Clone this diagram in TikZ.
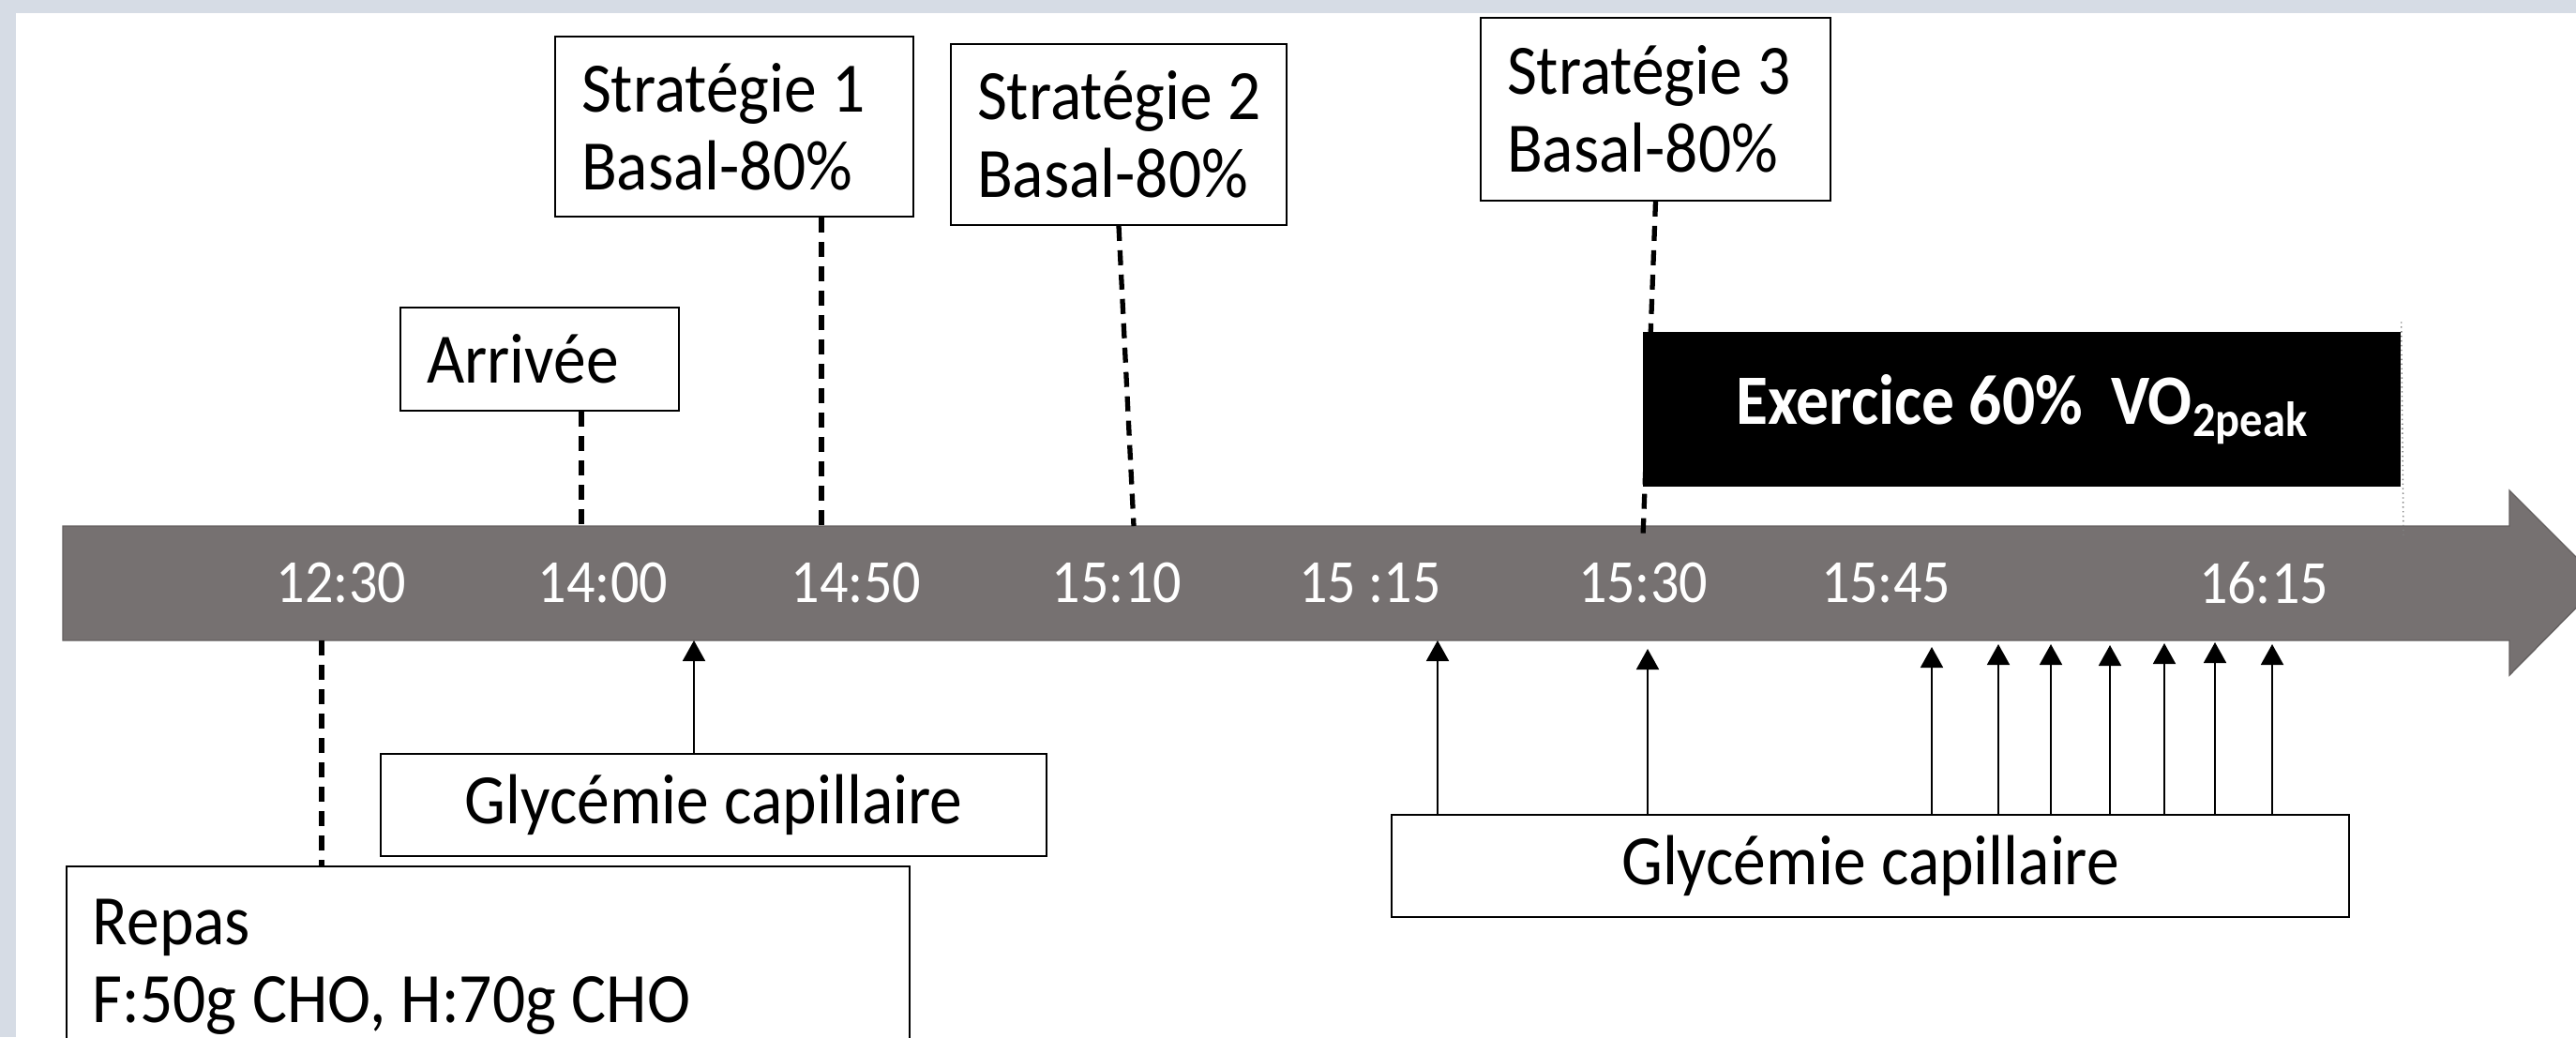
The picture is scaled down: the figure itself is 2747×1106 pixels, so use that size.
\documentclass[tikz,border=0pt]{standalone}
\usepackage{fontspec}
\setmainfont{Carlito}[FakeStretch=0.92]
\usetikzlibrary{arrows.meta,positioning}
\definecolor{axisgray}{HTML}{767171}
\definecolor{bgblue}{HTML}{D6DCE5}
\newcommand\tightsp{\spaceskip 0.22em\relax\xspaceskip 0.22em\relax}

\begin{document}
\begin{tikzpicture}[x=0.1mm,y=-0.1mm,
  box/.style={draw=black,line width=0.5pt,fill=white,align=left,inner xsep=2.8mm,font=\fontsize{21.5}{23.7}\selectfont,execute at begin node=\tightsp},
  tlab/.style={text=white,font=\fontsize{18.6}{20}\selectfont},
  dashln/.style={line width=1.5pt,dash pattern=on 1.6mm off 1mm},
  uparr/.style={-{Triangle[width=2.4mm,length=2.2mm]},line width=0.55pt}
]
  \clip (0,0) rectangle (2747,1106);
  \fill[bgblue] (0,0) rectangle (2747,1106);
  \fill[white] (17,14) rectangle (2747,1106);
  % time axis
  \filldraw[fill=axisgray,draw=axisgray!85!black,line width=0.4pt] (67,561) -- (2676,561) -- (2676,523) -- (2774,621) -- (2676,720) -- (2676,683) -- (67,683) -- cycle;
  \foreach \x/\t [count=\i] in {364/12:30, 643/14:00, 913/14:50, 1191/15:10, 1461/15 :15, 1752/15:30, 2011/15:45, 2414/16:15}
    \node[tlab] (t\i) at (\x,622) {\t};
  % boxes
  \node[box,text width=32.6mm,minimum height=19.2mm] (strat1) at (783,135) {\mbox{Stratégie 1}\\Basal-80\%};
  \node[box,text width=30.2mm,minimum height=19.3mm] (strat2) at (1193,143.5) {\mbox{Stratégie 2}\\Basal-80\%};
  \node[box,text width=31.7mm,minimum height=19.5mm] (strat3) at (1765.5,116.5) {\mbox{Stratégie 3}\\Basal-80\%};
  \node[box,text width=24.1mm,minimum height=11mm] (arrivee) at (575.5,383) {Arrivée};
  \node[box,align=center,text width=65.4mm,minimum height=10.9mm] (glyc1) at (761,858.5) {Glycémie capillaire};
  \node[box,align=center,text width=96.5mm,minimum height=10.9mm] (glyc2) at (1994.5,923.5) {Glycémie capillaire};
  \node[box,anchor=north west,inner ysep=3.5mm,text width=84.3mm] (repas) at (70,923) {Repas\\F:50g CHO, H:70g CHO};
  % marks on the axis
  \coordinate (mArr) at (620,561);
  \coordinate (mS1) at (876,561);
  \coordinate (mS2) at (1209,561);
  \coordinate (mS3) at (1752,573);
  \coordinate (mRep) at (343,683);
  \coordinate (mEnd) at (2563,573);
  \draw[dashln] (arrivee.south -| mArr) -- (mArr);
  \draw[dashln] (strat1.south -| mS1) -- (mS1);
  \draw[dashln] (strat2.south) -- (mS2);
  \draw[dashln] (strat3.south) -- (mS3);
  \draw[dashln] (mRep) -- (repas.north -| mRep);
  \node[fill=black,text=white,minimum width=80.8mm,minimum height=16.5mm,font=\fontsize{21.5}{23}\selectfont\bfseries] (exer) at (2156,436.5)
    {Exercice\hspace{0.2em}60\%\hspace{0.4em}VO\raisebox{-0.35ex}{\fontsize{15}{15}\selectfont 2peak}};
  \draw[densely dotted,line width=0.4pt,gray] ([yshift=1mm]exer.north east) -- (mEnd);
  % capillary glycaemia
  \coordinate (g0) at (740,683);
  \draw[uparr] (glyc1.north -| g0) -- (g0);
  \foreach \x/\y in {1533/683, 1757/692, 2060/690, 2131/687, 2187/687, 2250/688, 2308/686, 2362/685, 2423/687} {
    \coordinate (gt) at (\x,\y);
    \draw[uparr] (glyc2.north -| gt) -- (gt);
  }
\end{tikzpicture}
\end{document}
